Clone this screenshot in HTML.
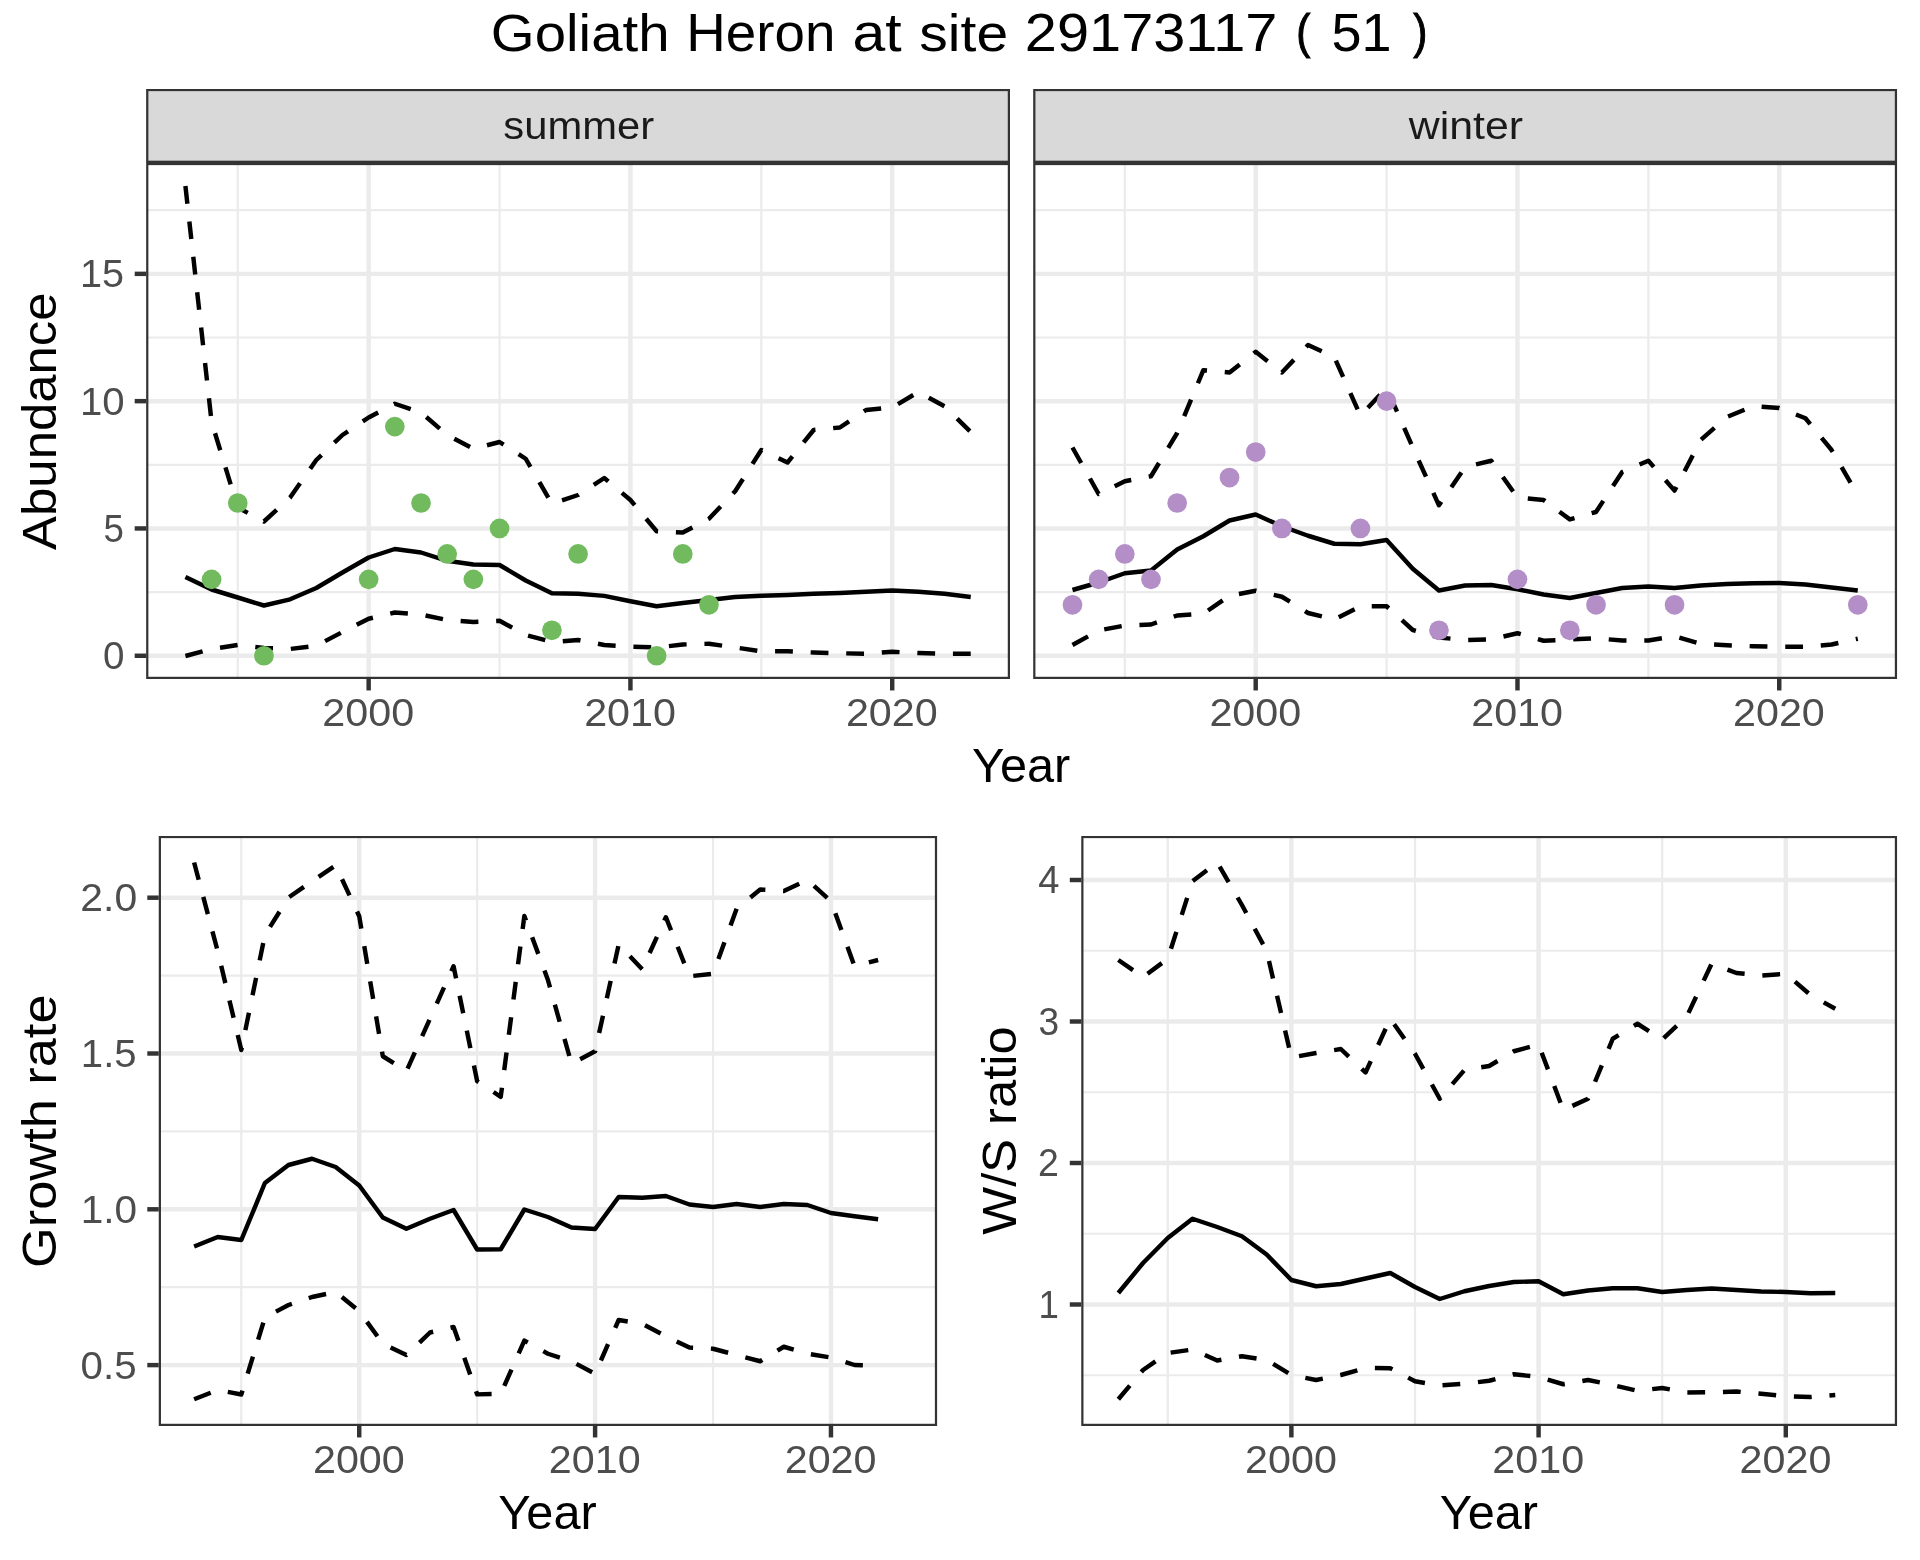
<!DOCTYPE html>
<html><head><meta charset="utf-8"><title>Goliath Heron at site 29173117</title>
<style>html,body{margin:0;padding:0;background:#fff;}body{width:1920px;height:1560px;overflow:hidden;}svg{display:block;will-change:transform;}text{font-family:"Liberation Sans",sans-serif;}</style>
</head><body>
<svg width="1920" height="1560" viewBox="0 0 1920 1560">
<rect width="1920" height="1560" fill="#fff"/>
<g id="title">
<text transform="translate(490.87 51) scale(1.1279 1.0483)" font-size="50" fill="#000">Goliath</text>
<text transform="translate(686.26 51) scale(1.0950 1.0580)" font-size="50" fill="#000">Heron</text>
<text transform="translate(852.53 51) scale(1.1783 1.0769)" font-size="50" fill="#000">at</text>
<text transform="translate(919.35 51) scale(1.1409 1.0483)" font-size="50" fill="#000">site</text>
<text transform="translate(1024.85 51) scale(1.1544 1.0571)" font-size="50" fill="#000">29173117</text>
<text transform="translate(1296.33 47.51) scale(0.8491 0.9519)" font-size="50" fill="#000" stroke="#000" stroke-width="1.1">(</text>
<text transform="translate(1331.62 51) scale(1.0780 1.0580)" font-size="50" fill="#000">51</text>
<text transform="translate(1413.34 47.51) scale(0.8491 0.9519)" font-size="50" fill="#000" stroke="#000" stroke-width="1.1">)</text>
</g>
<clipPath id="cssummer"><rect x="146.15" y="88.9" width="863.85" height="74"/></clipPath>
<rect clip-path="url(#cssummer)" x="146.15" y="88.9" width="863.85" height="74" fill="#D9D9D9" stroke="#333333" stroke-width="4.45"/>
<text transform="translate(503.34 139.1) scale(1.1399 1.0370)" font-size="36.67" fill="#1A1A1A">summer</text>
<clipPath id="cswinter"><rect x="1033.2" y="88.9" width="863.85" height="74"/></clipPath>
<rect clip-path="url(#cswinter)" x="1033.2" y="88.9" width="863.85" height="74" fill="#D9D9D9" stroke="#333333" stroke-width="4.45"/>
<text transform="translate(1408.67 139.1) scale(1.1695 1.0483)" font-size="36.67" fill="#1A1A1A">winter</text>
<clipPath id="c1"><rect x="146.15" y="162.9" width="863.85" height="516.1"/></clipPath>
<g clip-path="url(#c1)">
<rect x="146.15" y="162.9" width="863.85" height="516.1" fill="#fff"/>
<line x1="146.15" x2="1010" y1="592.1" y2="592.1" stroke="#EBEBEB" stroke-width="2.22"/>
<line x1="146.15" x2="1010" y1="464.8" y2="464.8" stroke="#EBEBEB" stroke-width="2.22"/>
<line x1="146.15" x2="1010" y1="337.5" y2="337.5" stroke="#EBEBEB" stroke-width="2.22"/>
<line x1="146.15" x2="1010" y1="210.2" y2="210.2" stroke="#EBEBEB" stroke-width="2.22"/>
<line x1="237.77" x2="237.77" y1="162.9" y2="679" stroke="#EBEBEB" stroke-width="2.22"/>
<line x1="499.54" x2="499.54" y1="162.9" y2="679" stroke="#EBEBEB" stroke-width="2.22"/>
<line x1="761.32" x2="761.32" y1="162.9" y2="679" stroke="#EBEBEB" stroke-width="2.22"/>
<line x1="146.15" x2="1010" y1="655.75" y2="655.75" stroke="#EBEBEB" stroke-width="4.45"/>
<line x1="146.15" x2="1010" y1="528.45" y2="528.45" stroke="#EBEBEB" stroke-width="4.45"/>
<line x1="146.15" x2="1010" y1="401.15" y2="401.15" stroke="#EBEBEB" stroke-width="4.45"/>
<line x1="146.15" x2="1010" y1="273.85" y2="273.85" stroke="#EBEBEB" stroke-width="4.45"/>
<line x1="368.66" x2="368.66" y1="162.9" y2="679" stroke="#EBEBEB" stroke-width="4.45"/>
<line x1="630.43" x2="630.43" y1="162.9" y2="679" stroke="#EBEBEB" stroke-width="4.45"/>
<line x1="892.2" x2="892.2" y1="162.9" y2="679" stroke="#EBEBEB" stroke-width="4.45"/>
<polyline points="185.42,577 211.59,589.5 237.77,597.5 263.95,605.5 290.12,599.3 316.3,588 342.48,572.5 368.66,557.5 394.83,549 421.01,552.5 447.19,560.8 473.37,564.5 499.54,565 525.72,580.5 551.9,593.3 578.08,593.8 604.25,595.9 630.43,601.25 656.61,606.25 682.78,603 708.96,600 735.14,597 761.32,595.75 787.49,595 813.67,593.75 839.85,593 866.03,591.75 892.2,590.5 918.38,591.75 944.56,593.75 970.73,597" fill="none" stroke="#000" stroke-width="4.45" stroke-linejoin="round"/>
<polyline points="185.42,656 211.59,649 237.77,645 263.95,648 290.12,649 316.3,645.75 342.48,632 368.66,618.75 394.83,612.5 421.01,614.5 447.19,620 473.37,622 499.54,620.75 525.72,635 551.9,642 578.08,640 604.25,645 630.43,646.75 656.61,647.5 682.78,644.5 708.96,643.75 735.14,647.5 761.32,651.25 787.49,651.25 813.67,652.5 839.85,653.25 866.03,653.75 892.2,651.75 918.38,653 944.56,653.75 970.73,653.75" fill="none" stroke="#000" stroke-width="4.45" stroke-linejoin="round" stroke-dasharray="17.8 17.8"/>
<polyline points="185.42,186 211.59,422 237.77,507.5 263.95,521.5 290.12,497.5 316.3,460 342.48,435 368.66,417.5 394.83,403.75 421.01,412.5 447.19,435 473.37,448.75 499.54,442 525.72,458.75 551.9,503.75 578.08,495 604.25,478 630.43,500 656.61,531.25 682.78,532.5 708.96,518.75 735.14,491.25 761.32,450 787.49,462.5 813.67,430 839.85,427.5 866.03,410 892.2,407.5 918.38,392 944.56,406.25 970.73,432" fill="none" stroke="#000" stroke-width="4.45" stroke-linejoin="round" stroke-dasharray="17.8 17.8"/>
<circle cx="211.59" cy="579.37" r="9.85" fill="#71BB5E"/>
<circle cx="237.77" cy="502.99" r="9.85" fill="#71BB5E"/>
<circle cx="263.95" cy="655.75" r="9.85" fill="#71BB5E"/>
<circle cx="368.66" cy="579.37" r="9.85" fill="#71BB5E"/>
<circle cx="394.83" cy="426.61" r="9.85" fill="#71BB5E"/>
<circle cx="421.01" cy="502.99" r="9.85" fill="#71BB5E"/>
<circle cx="447.19" cy="553.91" r="9.85" fill="#71BB5E"/>
<circle cx="473.37" cy="579.37" r="9.85" fill="#71BB5E"/>
<circle cx="499.54" cy="528.45" r="9.85" fill="#71BB5E"/>
<circle cx="551.9" cy="630.29" r="9.85" fill="#71BB5E"/>
<circle cx="578.08" cy="553.91" r="9.85" fill="#71BB5E"/>
<circle cx="656.61" cy="655.75" r="9.85" fill="#71BB5E"/>
<circle cx="682.78" cy="553.91" r="9.85" fill="#71BB5E"/>
<circle cx="708.96" cy="604.83" r="9.85" fill="#71BB5E"/>
<rect x="146.15" y="162.9" width="863.85" height="516.1" fill="none" stroke="#333333" stroke-width="4.45"/>
</g>
<line x1="368.66" x2="368.66" y1="679" y2="690.46" stroke="#333333" stroke-width="4.45"/>
<text transform="translate(322.35 726.3) scale(1.1262 1.0571)" font-size="36.67" fill="#4D4D4D">2000</text>
<line x1="630.43" x2="630.43" y1="679" y2="690.46" stroke="#333333" stroke-width="4.45"/>
<text transform="translate(584.13 726.3) scale(1.1262 1.0571)" font-size="36.67" fill="#4D4D4D">2010</text>
<line x1="892.2" x2="892.2" y1="679" y2="690.46" stroke="#333333" stroke-width="4.45"/>
<text transform="translate(845.9 726.3) scale(1.1262 1.0571)" font-size="36.67" fill="#4D4D4D">2020</text>
<clipPath id="c2"><rect x="1033.2" y="162.9" width="863.85" height="516.1"/></clipPath>
<g clip-path="url(#c2)">
<rect x="1033.2" y="162.9" width="863.85" height="516.1" fill="#fff"/>
<line x1="1033.2" x2="1897.05" y1="592.1" y2="592.1" stroke="#EBEBEB" stroke-width="2.22"/>
<line x1="1033.2" x2="1897.05" y1="464.8" y2="464.8" stroke="#EBEBEB" stroke-width="2.22"/>
<line x1="1033.2" x2="1897.05" y1="337.5" y2="337.5" stroke="#EBEBEB" stroke-width="2.22"/>
<line x1="1033.2" x2="1897.05" y1="210.2" y2="210.2" stroke="#EBEBEB" stroke-width="2.22"/>
<line x1="1124.82" x2="1124.82" y1="162.9" y2="679" stroke="#EBEBEB" stroke-width="2.22"/>
<line x1="1386.59" x2="1386.59" y1="162.9" y2="679" stroke="#EBEBEB" stroke-width="2.22"/>
<line x1="1648.37" x2="1648.37" y1="162.9" y2="679" stroke="#EBEBEB" stroke-width="2.22"/>
<line x1="1033.2" x2="1897.05" y1="655.75" y2="655.75" stroke="#EBEBEB" stroke-width="4.45"/>
<line x1="1033.2" x2="1897.05" y1="528.45" y2="528.45" stroke="#EBEBEB" stroke-width="4.45"/>
<line x1="1033.2" x2="1897.05" y1="401.15" y2="401.15" stroke="#EBEBEB" stroke-width="4.45"/>
<line x1="1033.2" x2="1897.05" y1="273.85" y2="273.85" stroke="#EBEBEB" stroke-width="4.45"/>
<line x1="1255.71" x2="1255.71" y1="162.9" y2="679" stroke="#EBEBEB" stroke-width="4.45"/>
<line x1="1517.48" x2="1517.48" y1="162.9" y2="679" stroke="#EBEBEB" stroke-width="4.45"/>
<line x1="1779.25" x2="1779.25" y1="162.9" y2="679" stroke="#EBEBEB" stroke-width="4.45"/>
<polyline points="1072.47,590 1098.64,582.5 1124.82,573.25 1151,570.5 1177.17,549.5 1203.35,536.25 1229.53,520.5 1255.71,514.5 1281.88,526.25 1308.06,535.75 1334.24,543.75 1360.42,544.25 1386.59,540 1412.77,568.75 1438.95,590.5 1465.12,585.5 1491.3,585 1517.48,589.25 1543.66,594.5 1569.83,598 1596.01,593 1622.19,588 1648.37,586.5 1674.54,588 1700.72,585.5 1726.9,584 1753.08,583.25 1779.25,583 1805.43,584.5 1831.61,587.5 1857.78,590.5" fill="none" stroke="#000" stroke-width="4.45" stroke-linejoin="round"/>
<polyline points="1072.47,645 1098.64,630.5 1124.82,625.5 1151,624.5 1177.17,615.5 1203.35,613.75 1229.53,595.75 1255.71,590.75 1281.88,596.75 1308.06,613 1334.24,619.5 1360.42,606.25 1386.59,606.25 1412.77,630 1438.95,637.5 1465.12,640 1491.3,639.25 1517.48,633.25 1543.66,640.75 1569.83,639.5 1596.01,638.25 1622.19,640.5 1648.37,640.5 1674.54,636.25 1700.72,643.75 1726.9,645.25 1753.08,646.25 1779.25,646.75 1805.43,646.75 1831.61,644.5 1857.78,638.75" fill="none" stroke="#000" stroke-width="4.45" stroke-linejoin="round" stroke-dasharray="17.8 17.8"/>
<polyline points="1072.47,447.5 1098.64,494 1124.82,481.25 1151,476.25 1177.17,433 1203.35,370.2 1229.53,372.5 1255.71,351.75 1281.88,372.5 1308.06,345 1334.24,357 1360.42,415.75 1386.59,387.8 1412.77,447.5 1438.95,505.3 1465.12,467 1491.3,460.75 1517.48,497.5 1543.66,500 1569.83,519.4 1596.01,512 1622.19,472 1648.37,460.75 1674.54,490.6 1700.72,440 1726.9,417 1753.08,406.25 1779.25,408 1805.43,418.25 1831.61,450 1857.78,495" fill="none" stroke="#000" stroke-width="4.45" stroke-linejoin="round" stroke-dasharray="17.8 17.8"/>
<circle cx="1072.47" cy="604.83" r="9.85" fill="#B38EC7"/>
<circle cx="1098.64" cy="579.37" r="9.85" fill="#B38EC7"/>
<circle cx="1124.82" cy="553.91" r="9.85" fill="#B38EC7"/>
<circle cx="1151" cy="579.37" r="9.85" fill="#B38EC7"/>
<circle cx="1177.17" cy="502.99" r="9.85" fill="#B38EC7"/>
<circle cx="1229.53" cy="477.53" r="9.85" fill="#B38EC7"/>
<circle cx="1255.71" cy="452.07" r="9.85" fill="#B38EC7"/>
<circle cx="1281.88" cy="528.45" r="9.85" fill="#B38EC7"/>
<circle cx="1360.42" cy="528.45" r="9.85" fill="#B38EC7"/>
<circle cx="1386.59" cy="401.15" r="9.85" fill="#B38EC7"/>
<circle cx="1438.95" cy="630.29" r="9.85" fill="#B38EC7"/>
<circle cx="1517.48" cy="579.37" r="9.85" fill="#B38EC7"/>
<circle cx="1569.83" cy="630.29" r="9.85" fill="#B38EC7"/>
<circle cx="1596.01" cy="604.83" r="9.85" fill="#B38EC7"/>
<circle cx="1674.54" cy="604.83" r="9.85" fill="#B38EC7"/>
<circle cx="1857.78" cy="604.83" r="9.85" fill="#B38EC7"/>
<rect x="1033.2" y="162.9" width="863.85" height="516.1" fill="none" stroke="#333333" stroke-width="4.45"/>
</g>
<line x1="1255.71" x2="1255.71" y1="679" y2="690.46" stroke="#333333" stroke-width="4.45"/>
<text transform="translate(1209.4 726.3) scale(1.1262 1.0571)" font-size="36.67" fill="#4D4D4D">2000</text>
<line x1="1517.48" x2="1517.48" y1="679" y2="690.46" stroke="#333333" stroke-width="4.45"/>
<text transform="translate(1471.18 726.3) scale(1.1262 1.0571)" font-size="36.67" fill="#4D4D4D">2010</text>
<line x1="1779.25" x2="1779.25" y1="679" y2="690.46" stroke="#333333" stroke-width="4.45"/>
<text transform="translate(1732.95 726.3) scale(1.1262 1.0571)" font-size="36.67" fill="#4D4D4D">2020</text>
<line x1="134.69" x2="146.15" y1="655.75" y2="655.75" stroke="#333333" stroke-width="4.45"/>
<text transform="translate(103.03 669.15) scale(1.0521 1.0571)" font-size="36.67" fill="#4D4D4D">0</text>
<line x1="134.69" x2="146.15" y1="528.45" y2="528.45" stroke="#333333" stroke-width="4.45"/>
<text transform="translate(103.47 541.85) scale(1.0000 1.0580)" font-size="36.67" fill="#4D4D4D">5</text>
<line x1="134.69" x2="146.15" y1="401.15" y2="401.15" stroke="#333333" stroke-width="4.45"/>
<text transform="translate(79.88 414.55) scale(1.0950 1.0571)" font-size="36.67" fill="#4D4D4D">10</text>
<line x1="134.69" x2="146.15" y1="273.85" y2="273.85" stroke="#333333" stroke-width="4.45"/>
<text transform="translate(79.92 287.25) scale(1.0804 1.0580)" font-size="36.67" fill="#4D4D4D">15</text>
<text transform="translate(971.96 781.8) scale(1.0628 1.0580)" font-size="45.83" fill="#000">Year</text>
<text transform="translate(56.4 549.9) rotate(-90) scale(1.1106 1.0483)" font-size="45.83" fill="#000">Abundance</text>
<clipPath id="c3"><rect x="158.75" y="835.9" width="778.35" height="590.1"/></clipPath>
<g clip-path="url(#c3)">
<rect x="158.75" y="835.9" width="778.35" height="590.1" fill="#fff"/>
<line x1="158.75" x2="937.1" y1="1287.2" y2="1287.2" stroke="#EBEBEB" stroke-width="2.22"/>
<line x1="158.75" x2="937.1" y1="1131.4" y2="1131.4" stroke="#EBEBEB" stroke-width="2.22"/>
<line x1="158.75" x2="937.1" y1="975.6" y2="975.6" stroke="#EBEBEB" stroke-width="2.22"/>
<line x1="241.3" x2="241.3" y1="835.9" y2="1426" stroke="#EBEBEB" stroke-width="2.22"/>
<line x1="477.17" x2="477.17" y1="835.9" y2="1426" stroke="#EBEBEB" stroke-width="2.22"/>
<line x1="713.03" x2="713.03" y1="835.9" y2="1426" stroke="#EBEBEB" stroke-width="2.22"/>
<line x1="158.75" x2="937.1" y1="1365.1" y2="1365.1" stroke="#EBEBEB" stroke-width="4.45"/>
<line x1="158.75" x2="937.1" y1="1209.3" y2="1209.3" stroke="#EBEBEB" stroke-width="4.45"/>
<line x1="158.75" x2="937.1" y1="1053.5" y2="1053.5" stroke="#EBEBEB" stroke-width="4.45"/>
<line x1="158.75" x2="937.1" y1="897.7" y2="897.7" stroke="#EBEBEB" stroke-width="4.45"/>
<line x1="359.23" x2="359.23" y1="835.9" y2="1426" stroke="#EBEBEB" stroke-width="4.45"/>
<line x1="595.1" x2="595.1" y1="835.9" y2="1426" stroke="#EBEBEB" stroke-width="4.45"/>
<line x1="830.96" x2="830.96" y1="835.9" y2="1426" stroke="#EBEBEB" stroke-width="4.45"/>
<polyline points="194.13,1246.5 217.72,1237 241.3,1240 264.89,1183 288.48,1165 312.06,1158.75 335.65,1167 359.23,1185.5 382.82,1217.5 406.41,1228.75 429.99,1218.75 453.58,1210 477.17,1249.5 500.75,1249.25 524.34,1209.5 547.92,1217 571.51,1227.5 595.1,1229 618.68,1197 642.27,1197.75 665.86,1196 689.44,1204.5 713.03,1207 736.62,1204 760.2,1207 783.79,1204 807.38,1205 830.96,1213 854.55,1216.25 878.13,1219.25" fill="none" stroke="#000" stroke-width="4.45" stroke-linejoin="round"/>
<polyline points="194.13,1399.25 217.72,1390 241.3,1394.5 264.89,1317.5 288.48,1305 312.06,1297 335.65,1292 359.23,1311.25 382.82,1343.75 406.41,1355 429.99,1332.5 453.58,1327 477.17,1394.4 500.75,1393.75 524.34,1340.6 547.92,1353.75 571.51,1361.25 595.1,1373.75 618.68,1320 642.27,1323.75 665.86,1336.25 689.44,1347.5 713.03,1348.75 736.62,1355 760.2,1361.25 783.79,1346.75 807.38,1353.75 830.96,1357.5 854.55,1365 878.13,1365.5" fill="none" stroke="#000" stroke-width="4.45" stroke-linejoin="round" stroke-dasharray="17.8 17.8"/>
<polyline points="194.13,862.5 217.72,951.25 241.3,1050 264.89,935 288.48,897.5 312.06,881.25 335.65,865.5 359.23,916.25 382.82,1056.25 406.41,1071.25 429.99,1018.75 453.58,966.25 477.17,1081.25 500.75,1096.8 524.34,916 547.92,980 571.51,1063.75 595.1,1051.25 618.68,944.6 642.27,969.2 665.86,917.2 689.44,976.25 713.03,973.75 736.62,908.75 760.2,889.5 783.79,891 807.38,880 830.96,901.25 854.55,966.25 878.13,960" fill="none" stroke="#000" stroke-width="4.45" stroke-linejoin="round" stroke-dasharray="17.8 17.8"/>
<rect x="158.75" y="835.9" width="778.35" height="590.1" fill="none" stroke="#333333" stroke-width="4.45"/>
</g>
<line x1="359.23" x2="359.23" y1="1426" y2="1437.46" stroke="#333333" stroke-width="4.45"/>
<text transform="translate(312.93 1473.3) scale(1.1262 1.0571)" font-size="36.67" fill="#4D4D4D">2000</text>
<line x1="595.1" x2="595.1" y1="1426" y2="1437.46" stroke="#333333" stroke-width="4.45"/>
<text transform="translate(548.8 1473.3) scale(1.1262 1.0571)" font-size="36.67" fill="#4D4D4D">2010</text>
<line x1="830.96" x2="830.96" y1="1426" y2="1437.46" stroke="#333333" stroke-width="4.45"/>
<text transform="translate(784.66 1473.3) scale(1.1262 1.0571)" font-size="36.67" fill="#4D4D4D">2020</text>
<line x1="147.29" x2="158.75" y1="1365.1" y2="1365.1" stroke="#333333" stroke-width="4.45"/>
<text transform="translate(80.57 1378.5) scale(1.0992 1.0571)" font-size="36.67" fill="#4D4D4D">0.5</text>
<line x1="147.29" x2="158.75" y1="1209.3" y2="1209.3" stroke="#333333" stroke-width="4.45"/>
<text transform="translate(80.79 1222.7) scale(1.1055 1.0571)" font-size="36.67" fill="#4D4D4D">1.0</text>
<line x1="147.29" x2="158.75" y1="1053.5" y2="1053.5" stroke="#333333" stroke-width="4.45"/>
<text transform="translate(80.82 1066.9) scale(1.0941 1.0580)" font-size="36.67" fill="#4D4D4D">1.5</text>
<line x1="147.29" x2="158.75" y1="897.7" y2="897.7" stroke="#333333" stroke-width="4.45"/>
<text transform="translate(80.32 911.1) scale(1.1149 1.0571)" font-size="36.67" fill="#4D4D4D">2.0</text>
<text transform="translate(498.36 1529) scale(1.0628 1.0580)" font-size="45.83" fill="#000">Year</text>
<text transform="translate(56.4 1267.92) rotate(-90) scale(1.1422 1.0483)" font-size="45.83" fill="#000">Growth rate</text>
<clipPath id="c4"><rect x="1081.25" y="835.9" width="815.8" height="590.1"/></clipPath>
<g clip-path="url(#c4)">
<rect x="1081.25" y="835.9" width="815.8" height="590.1" fill="#fff"/>
<line x1="1081.25" x2="1897.05" y1="1375.25" y2="1375.25" stroke="#EBEBEB" stroke-width="2.22"/>
<line x1="1081.25" x2="1897.05" y1="1233.75" y2="1233.75" stroke="#EBEBEB" stroke-width="2.22"/>
<line x1="1081.25" x2="1897.05" y1="1092.25" y2="1092.25" stroke="#EBEBEB" stroke-width="2.22"/>
<line x1="1081.25" x2="1897.05" y1="950.75" y2="950.75" stroke="#EBEBEB" stroke-width="2.22"/>
<line x1="1167.77" x2="1167.77" y1="835.9" y2="1426" stroke="#EBEBEB" stroke-width="2.22"/>
<line x1="1414.99" x2="1414.99" y1="835.9" y2="1426" stroke="#EBEBEB" stroke-width="2.22"/>
<line x1="1662.2" x2="1662.2" y1="835.9" y2="1426" stroke="#EBEBEB" stroke-width="2.22"/>
<line x1="1081.25" x2="1897.05" y1="1304.5" y2="1304.5" stroke="#EBEBEB" stroke-width="4.45"/>
<line x1="1081.25" x2="1897.05" y1="1163" y2="1163" stroke="#EBEBEB" stroke-width="4.45"/>
<line x1="1081.25" x2="1897.05" y1="1021.5" y2="1021.5" stroke="#EBEBEB" stroke-width="4.45"/>
<line x1="1081.25" x2="1897.05" y1="880" y2="880" stroke="#EBEBEB" stroke-width="4.45"/>
<line x1="1291.38" x2="1291.38" y1="835.9" y2="1426" stroke="#EBEBEB" stroke-width="4.45"/>
<line x1="1538.59" x2="1538.59" y1="835.9" y2="1426" stroke="#EBEBEB" stroke-width="4.45"/>
<line x1="1785.8" x2="1785.8" y1="835.9" y2="1426" stroke="#EBEBEB" stroke-width="4.45"/>
<polyline points="1118.33,1293 1143.05,1263 1167.77,1238 1192.5,1218.75 1217.22,1227 1241.94,1236.25 1266.66,1254.5 1291.38,1280 1316.1,1286.25 1340.82,1284 1365.54,1278.5 1390.27,1273 1414.99,1287 1439.71,1299 1464.43,1291.25 1489.15,1286 1513.87,1282 1538.59,1281.25 1563.31,1294.25 1588.03,1290.5 1612.76,1288.25 1637.48,1288.25 1662.2,1292 1686.92,1290 1711.64,1288.5 1736.36,1290 1761.08,1291.5 1785.8,1292 1810.53,1293.25 1835.25,1293" fill="none" stroke="#000" stroke-width="4.45" stroke-linejoin="round"/>
<polyline points="1118.33,1399.25 1143.05,1370 1167.77,1353 1192.5,1349.5 1217.22,1360.5 1241.94,1356.25 1266.66,1360 1291.38,1375 1316.1,1380 1340.82,1375 1365.54,1368 1390.27,1368.25 1414.99,1381.25 1439.71,1385.5 1464.43,1383.75 1489.15,1380.75 1513.87,1374.25 1538.59,1377 1563.31,1384.25 1588.03,1380 1612.76,1385 1637.48,1390.75 1662.2,1388 1686.92,1392.5 1711.64,1392.25 1736.36,1391.5 1761.08,1393.75 1785.8,1396.25 1810.53,1397 1835.25,1395" fill="none" stroke="#000" stroke-width="4.45" stroke-linejoin="round" stroke-dasharray="17.8 17.8"/>
<polyline points="1118.33,960 1143.05,977 1167.77,958.75 1192.5,881.25 1217.22,862.5 1241.94,905 1266.66,951 1291.38,1057.5 1316.1,1053 1340.82,1049 1365.54,1072.5 1390.27,1018.75 1414.99,1053.75 1439.71,1098.75 1464.43,1070 1489.15,1066 1513.87,1051.25 1538.59,1044.5 1563.31,1110 1588.03,1098.75 1612.76,1038.75 1637.48,1023.75 1662.2,1039.5 1686.92,1016.25 1711.64,963.75 1736.36,973 1761.08,975.5 1785.8,973.75 1810.53,995 1835.25,1008.75" fill="none" stroke="#000" stroke-width="4.45" stroke-linejoin="round" stroke-dasharray="17.8 17.8"/>
<rect x="1081.25" y="835.9" width="815.8" height="590.1" fill="none" stroke="#333333" stroke-width="4.45"/>
</g>
<line x1="1291.38" x2="1291.38" y1="1426" y2="1437.46" stroke="#333333" stroke-width="4.45"/>
<text transform="translate(1245.08 1473.3) scale(1.1262 1.0571)" font-size="36.67" fill="#4D4D4D">2000</text>
<line x1="1538.59" x2="1538.59" y1="1426" y2="1437.46" stroke="#333333" stroke-width="4.45"/>
<text transform="translate(1492.29 1473.3) scale(1.1262 1.0571)" font-size="36.67" fill="#4D4D4D">2010</text>
<line x1="1785.8" x2="1785.8" y1="1426" y2="1437.46" stroke="#333333" stroke-width="4.45"/>
<text transform="translate(1739.5 1473.3) scale(1.1262 1.0571)" font-size="36.67" fill="#4D4D4D">2020</text>
<line x1="1069.79" x2="1081.25" y1="1304.5" y2="1304.5" stroke="#333333" stroke-width="4.45"/>
<text transform="translate(1038.57 1317.9) scale(1.0000 1.0580)" font-size="36.67" fill="#4D4D4D">1</text>
<line x1="1069.79" x2="1081.25" y1="1163" y2="1163" stroke="#333333" stroke-width="4.45"/>
<text transform="translate(1037.98 1176.4) scale(1.0220 1.0571)" font-size="36.67" fill="#4D4D4D">2</text>
<line x1="1069.79" x2="1081.25" y1="1021.5" y2="1021.5" stroke="#333333" stroke-width="4.45"/>
<text transform="translate(1038.56 1034.9) scale(1.0105 1.0571)" font-size="36.67" fill="#4D4D4D">3</text>
<line x1="1069.79" x2="1081.25" y1="880" y2="880" stroke="#333333" stroke-width="4.45"/>
<text transform="translate(1038.36 893.4) scale(1.0392 1.0580)" font-size="36.67" fill="#4D4D4D">4</text>
<text transform="translate(1439.66 1529) scale(1.0628 1.0580)" font-size="45.83" fill="#000">Year</text>
<text transform="translate(1016.4 1234.65) rotate(-90) scale(1.1058 1.0483)" font-size="45.83" fill="#000">W/S ratio</text>
</svg></body></html>
